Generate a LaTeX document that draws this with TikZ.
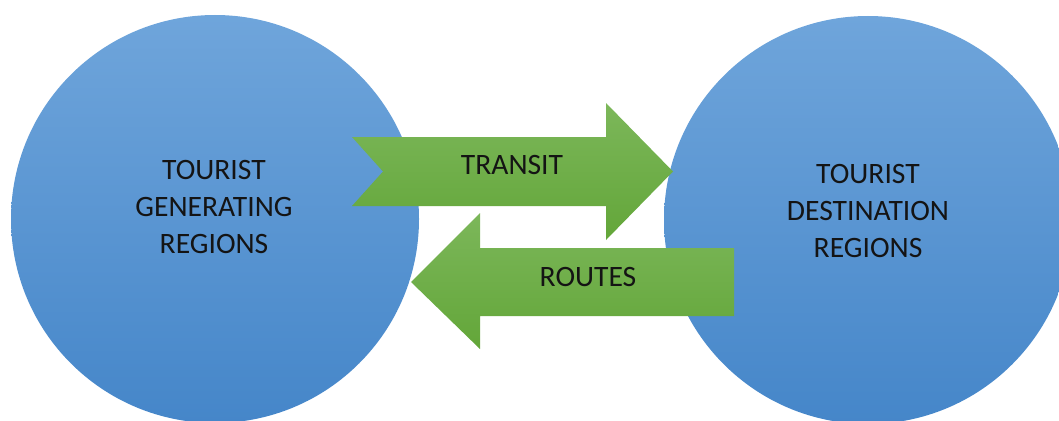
\documentclass[tikz,border=0pt]{standalone}
\usepackage{fontspec}
\setmainfont{Carlito}
\definecolor{bluetop}{HTML}{6FA5DB}
\definecolor{bluebot}{HTML}{4586C9}
\definecolor{greentop}{HTML}{7CB75A}
\definecolor{greenbot}{HTML}{63A639}
\definecolor{txt}{HTML}{141414}
\begin{document}
\begin{tikzpicture}[x=1pt,y=-1pt,
  region/.style={circle, minimum size=408pt, inner sep=0pt, top color=bluetop, bottom color=bluebot, draw=none},
  flow/.style={top color=greentop, bottom color=greenbot, draw=none},
  lbl/.style={font=\fontsize{29.6}{37}\selectfont, text=txt, align=center, inner sep=0pt}]
\useasboundingbox (0,0) rectangle (1059,420);
\clip (0,0) rectangle (1059,420);
\node[region] (gen) at (215,219) {};
\node[region] (dest) at (868,220) {};
\node[lbl] (gentext) at (214,207) {TOURIST\\GENERATING\\REGIONS};
\node[lbl] (desttext) at (868,211) {TOURIST\\DESTINATION\\REGIONS};
\path[flow] (352,137) -- (606,137) -- (606,103) -- (673,171.5) -- (606,240) -- (606,206) -- (352,206) -- (383,171.5) -- cycle;
\path[flow] (734,248) -- (480,248) -- (480,213) -- (411,282) -- (480,349) -- (480,316) -- (734,316) -- cycle;
\node[lbl] (transit) at (512,165) {TRANSIT};
\node[lbl] (routes) at (588,277) {ROUTES};
\end{tikzpicture}
\end{document}
